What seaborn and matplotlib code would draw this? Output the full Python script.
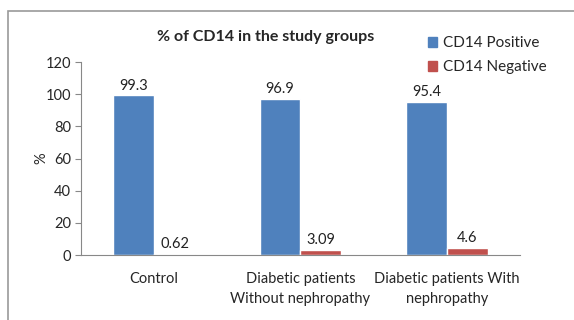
import matplotlib
matplotlib.use("Agg")
import matplotlib.pyplot as plt
import matplotlib.patches as mpatches
import pandas as pd
import seaborn as sns

groups = ["Control", "Diabetic patients\nWithout nephropathy", "Diabetic patients With\nnephropathy"]
series = ["CD14 Positive", "CD14 Negative"]
positive = [99.3, 96.9, 95.4]
negative = [0.62, 3.09, 4.6]
y_ticks = [0, 20, 40, 60, 80, 100, 120]
colors = ["#4F81BD", "#C0504D"]

df = pd.DataFrame({
    "group": groups * 2,
    "series": [series[0]] * 3 + [series[1]] * 3,
    "value": positive + negative,
})

sns.set_style("white")
plt.rcParams["font.family"] = ["Lato", "DejaVu Sans"]

fig = plt.figure(figsize=(5.74, 3.2), dpi=100)
ax = fig.add_axes([0.141, 0.203, 0.765, 0.603])

sns.barplot(data=df, x="group", y="value", hue="series", palette=colors,
            width=0.56, saturation=1, ax=ax, legend=False)

for cont in ax.containers:
    ax.bar_label(cont, labels=[f"{v:g}" for v in cont.datavalues], padding=2,
                 fontsize=10.5, color="#222222")

ax.set_ylim(0, 120)
ax.set_yticks(y_ticks)
ax.set_xlim(-0.5, 2.5)
ax.tick_params(axis="y", labelsize=10.5, length=4, direction="out", color="#888888", left=True, pad=3)
ax.tick_params(axis="x", labelsize=10.5, length=0, pad=12)
for lbl in ax.get_xticklabels():
    lbl.set_linespacing(1.55)
ax.set_xlabel("")
ax.set_ylabel("%", fontsize=10.5)
ax.yaxis.set_label_coords(-0.075, 0.5)
for side in ["top", "right"]:
    ax.spines[side].set_visible(False)
ax.spines["left"].set_color("#888888")
ax.spines["bottom"].set_color("#888888")

fig.text(0.462, 0.885, "% of CD14 in the study groups", ha="center", va="center",
         fontsize=11.5, fontweight="bold")

handles = [mpatches.Patch(color=c, label=s) for c, s in zip(colors, series)]
fig.legend(handles=handles, loc="upper left", bbox_to_anchor=(0.722, 0.93),
           frameon=False, fontsize=11, handlelength=0.6, handleheight=0.6,
           handletextpad=0.4, labelspacing=0.65)

border = mpatches.Rectangle((8 / 574, -0.1), 1.2, 1.066, transform=fig.transFigure,
                            fill=False, edgecolor="#9a9a9a", linewidth=1.2, clip_on=False)
fig.patches.append(border)

fig.savefig("out.png", dpi=100)
